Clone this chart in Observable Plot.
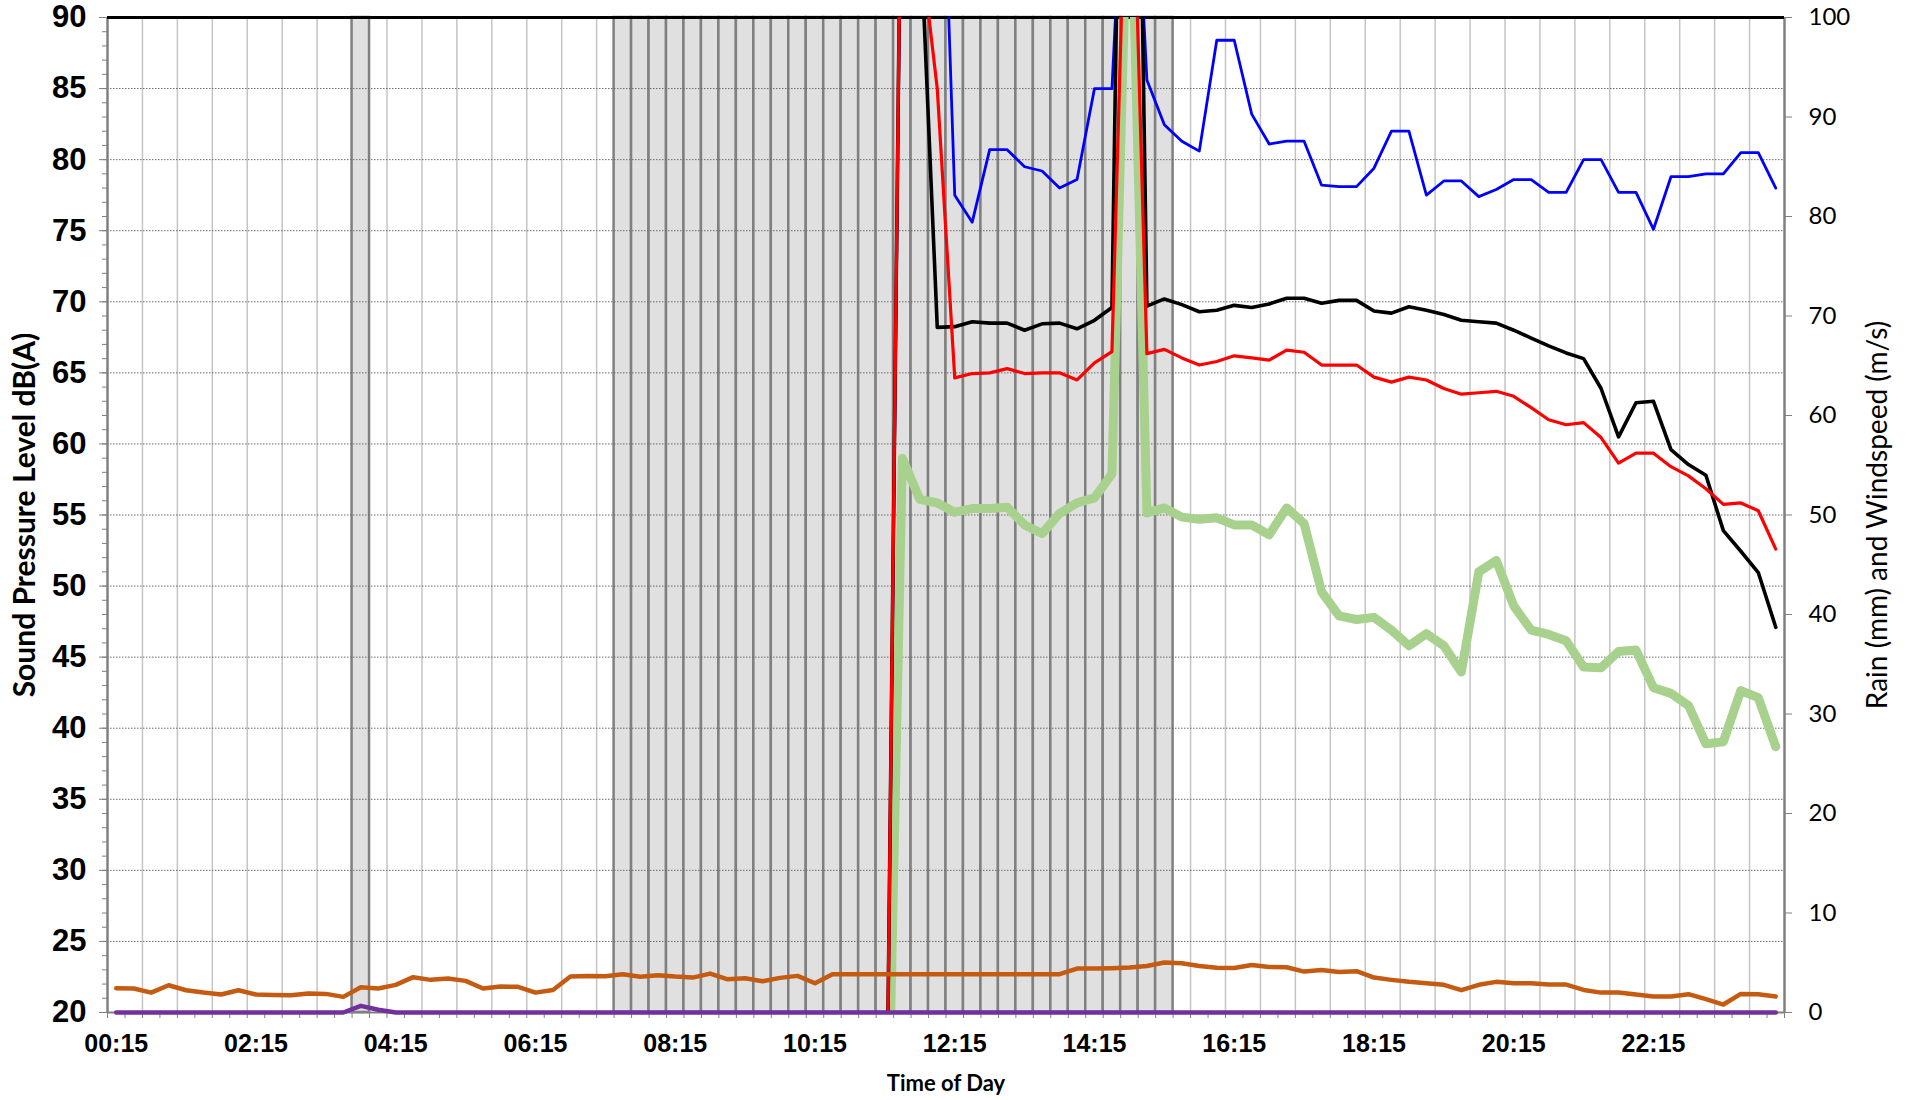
<!DOCTYPE html>
<html>
<head>
<meta charset="utf-8">
<script src="https://cdn.jsdelivr.net/npm/d3@7"></script>
<script src="https://cdn.jsdelivr.net/npm/@observablehq/plot@0.6"></script>
<style>
  html, body { margin: 0; padding: 0; background: #fff; }
  #chart svg { display: block; }
</style>
</head>
<body>
<div id="chart"></div>
<script>
// ---- categories: 15-minute slots (period end times) ----
const times = [
  "00:15","00:30","00:45","01:00","01:15","01:30","01:45","02:00",
  "02:15","02:30","02:45","03:00","03:15","03:30","03:45","04:00",
  "04:15","04:30","04:45","05:00","05:15","05:30","05:45","06:00",
  "06:15","06:30","06:45","07:00","07:15","07:30","07:45","08:00",
  "08:15","08:30","08:45","09:00","09:15","09:30","09:45","10:00",
  "10:15","10:30","10:45","11:00","11:15","11:30","11:45","12:00",
  "12:15","12:30","12:45","13:00","13:15","13:30","13:45","14:00",
  "14:15","14:30","14:45","15:00","15:15","15:30","15:45","16:00",
  "16:15","16:30","16:45","17:00","17:15","17:30","17:45","18:00",
  "18:15","18:30","18:45","19:00","19:15","19:30","19:45","20:00",
  "20:15","20:30","20:45","21:00","21:15","21:30","21:45","22:00",
  "22:15","22:30","22:45","23:00","23:15","23:30","23:45","00:00"
];

// ---- tick labels ----
const xTickLabels = ["00:15","02:15","04:15","06:15","08:15","10:15","12:15","14:15","16:15","18:15","20:15","22:15"];
const leftTicks = [20,25,30,35,40,45,50,55,60,65,70,75,80,85,90];
const rightTicks = [0,10,20,30,40,50,60,70,80,90,100];

// ---- shaded (flagged) periods ----
const shadedPeriods = [
  "03:45",
  "07:30","07:45","08:00","08:15","08:30","08:45","09:00","09:15",
  "09:30","09:45","10:00","10:15","10:30","10:45","11:00","11:15",
  "11:30","11:45","12:00","12:15","12:30","12:45","13:00","13:15",
  "13:30","13:45","14:00","14:15","14:30","14:45","15:00","15:15"
];

// ---- series, dB(A) (left axis) ----
const seriesBlue = [
  0,0,0,0,0,0,0,0,0,0,0,0,0,0,0,0,0,0,0,0,0,0,0,0,0,0,0,0,0,0,0,0,0,0,0,0,0,0,0,0,0,0,0,0,0,
  108,113,114,77.5,75.6,80.7,80.7,79.5,79.2,78.0,78.6,85.0,85.0,110,85.6,82.45,81.3,80.6,88.4,88.4,
  83.2,81.1,81.3,81.3,78.2,78.1,78.1,79.4,82.0,82.0,77.5,78.5,78.5,77.4,77.9,78.6,78.6,77.7,77.7,
  80.0,80.0,77.7,77.7,75.1,78.8,78.8,79.0,79.0,80.5,80.5,78.0
];
const seriesBlack = [
  0,0,0,0,0,0,0,0,0,0,0,0,0,0,0,0,0,0,0,0,0,0,0,0,0,0,0,0,0,0,0,0,0,0,0,0,0,0,0,0,0,0,0,0,0,
  110,97,68.2,68.25,68.6,68.5,68.5,68.0,68.45,68.5,68.1,68.7,69.6,150,69.7,70.2,69.8,69.3,69.4,69.75,
  69.6,69.85,70.25,70.25,69.9,70.1,70.1,69.35,69.2,69.65,69.4,69.1,68.7,68.6,68.5,68.0,67.45,66.9,66.4,
  66.0,63.9,60.5,62.9,63.0,59.6,58.55,57.8,53.9,52.45,50.95,47.1
];
const seriesRed = [
  0,0,0,0,0,0,0,0,0,0,0,0,0,0,0,0,0,0,0,0,0,0,0,0,0,0,0,0,0,0,0,0,0,0,0,0,0,0,0,0,0,0,0,0,0,
  110,95.5,85,64.65,64.95,65.0,65.3,64.95,65.0,65.0,64.5,65.7,66.5,110,66.35,66.65,66.05,65.55,65.8,66.2,
  66.05,65.9,66.6,66.45,65.55,65.55,65.55,64.7,64.35,64.7,64.5,63.9,63.5,63.6,63.7,63.35,62.55,61.7,61.35,
  61.5,60.45,58.65,59.35,59.35,58.4,57.75,56.85,55.75,55.85,55.3,52.6
];
const seriesGreen = [
  0,0,0,0,0,0,0,0,0,0,0,0,0,0,0,0,0,0,0,0,0,0,0,0,0,0,0,0,0,0,0,0,0,0,0,0,0,0,0,0,0,0,0,0,0,
  59.0,56.1,55.85,55.2,55.45,55.45,55.55,54.3,53.7,55.1,55.85,56.2,57.9,104,55.15,55.5,54.85,54.7,54.8,54.3,
  54.3,53.6,55.5,54.4,49.6,47.9,47.65,47.8,46.9,45.8,46.65,45.8,43.95,51.0,51.8,48.6,46.9,46.6,46.15,
  44.3,44.25,45.4,45.5,42.85,42.45,41.6,38.9,39.05,42.65,42.15,38.7
];

// ---- series on the right axis: windspeed (m/s) and rain (mm) ----
const windSpeed = [
  2.44,2.41,2.0,2.74,2.24,2.0,1.81,2.24,1.81,1.77,1.74,1.91,1.87,1.57,2.54,2.41,
  2.78,3.55,3.28,3.41,3.18,2.41,2.61,2.58,2.0,2.27,3.61,3.68,3.65,3.85,3.6,3.75,
  3.61,3.51,3.91,3.34,3.44,3.14,3.48,3.68,2.94,3.85,3.85,3.85,3.85,3.85,3.85,3.85,
  3.85,3.85,3.85,3.85,3.85,3.85,3.85,4.41,4.41,4.45,4.52,4.68,5.02,4.95,4.68,4.5,
  4.48,4.78,4.58,4.55,4.11,4.28,4.08,4.15,3.51,3.28,3.08,2.94,2.78,2.24,2.78,3.08,
  2.94,2.94,2.81,2.81,2.27,2.0,2.0,1.81,1.61,1.61,1.84,1.34,0.8,1.87,1.84,1.61
];
const rainfall = [
  0,0,0,0,0,0,0,0,0,0,0,0,0,0,0.67,0.27,
  0,0,0,0,0,0,0,0,0,0,0,0,0,0,0,0,
  0,0,0,0,0,0,0,0,0,0,0,0,0,0,0,0,
  0,0,0,0,0,0,0,0,0,0,0,0,0,0,0,0,
  0,0,0,0,0,0,0,0,0,0,0,0,0,0,0,0,
  0,0,0,0,0,0,0,0,0,0,0,0,0,0,0,0
];

// right axis (0–100) shares the plot height with the left axis (20–90 dB)
const toLeft = v => 20 + v * 0.7;
const slot = t => times.indexOf(t);

const rows = times.map((t, i) => ({
  t, i,
  blue: seriesBlue[i], black: seriesBlack[i], red: seriesRed[i], green: seriesGreen[i],
  wind: windSpeed[i], rain: rainfall[i]
}));

const grey = "#808080";
const xc = d => slot(d.t) + 0.5;

const chart = Plot.plot({
  width: 1908,
  height: 1100,
  marginLeft: 107,
  marginRight: 124,
  marginTop: 17,
  marginBottom: 88,
  style: { background: "#fff", fontFamily: "'Liberation Sans', Arial, sans-serif", color: "#000" },
  x: { domain: [0, times.length], axis: null },
  y: { domain: [20, 90], axis: null, label: null },
  marks: [
    // vertical light grid every 30 minutes
    Plot.ruleX(d3.range(2, times.length, 2), { y1: 20, y2: 90, stroke: "#c4c4c4", strokeWidth: 1.5 }),
    // shaded periods (full-height columns)
    Plot.rect(shadedPeriods, {
      x1: t => slot(t), x2: t => slot(t) + 1, y1: 20, y2: 90,
      fill: "#e0e0e0", stroke: grey, strokeWidth: 2.5
    }),
    // horizontal dotted grid
    Plot.ruleY(leftTicks.filter(v => v > 20 && v < 90), { stroke: "#6a6a6a", strokeWidth: 1, strokeDasharray: "1.5,1.5" }),
    // axis lines
    Plot.ruleY([20], { stroke: grey, strokeWidth: 2 }),
    Plot.ruleX([0, times.length], { stroke: grey, strokeWidth: 2.5 }),
    Plot.ruleY([90], { stroke: "#000", strokeWidth: 3 }),

    // left axis: minor + major ticks
    Plot.axisY({ anchor: "left", ticks: d3.range(20, 91, 1), tickSize: 5, tickFormat: () => "", stroke: grey }),
    Plot.axisY({
      anchor: "left", ticks: leftTicks, tickSize: 8, tickPadding: 13,
      stroke: grey, fill: "#000", fontSize: 31, fontWeight: "bold"
    }),
    // right axis
    Plot.axisY({
      anchor: "right", ticks: rightTicks.map(toLeft), tickSize: 7, tickPadding: 17,
      tickFormat: d => String(Math.round((d - 20) / 0.7)),
      stroke: grey, fill: "#000", fontSize: 24, fontFamily: "Lato"
    }),
    // bottom axis: tick at each slot boundary + labels every 2 hours
    Plot.axisX({ anchor: "bottom", ticks: d3.range(0, times.length + 1), tickSize: 6, tickFormat: () => "", stroke: grey }),
    Plot.axisX({
      anchor: "bottom", ticks: xTickLabels.map(t => slot(t) + 0.5), tickSize: 0, tickPadding: 22,
      tickFormat: d => times[Math.floor(d)], fill: "#000", fontSize: 25, fontWeight: "bold"
    }),

    // data lines
    Plot.line(rows, { x: xc, y: "green", stroke: "#a9d18e", strokeWidth: 9, clip: true }),
    Plot.line(rows, { x: xc, y: "blue", stroke: "#0000ff", strokeWidth: 2.8, clip: true }),
    Plot.line(rows, { x: xc, y: "black", stroke: "#000000", strokeWidth: 3.6, clip: true }),
    Plot.line(rows, { x: xc, y: "red", stroke: "#ff0000", strokeWidth: 3.2, clip: true }),
    Plot.line(rows, { x: xc, y: d => toLeft(d.wind), stroke: "#c55a11", strokeWidth: 4.5 }),
    Plot.line(rows, { x: xc, y: d => toLeft(d.rain), stroke: "#7030a0", strokeWidth: 4.5 }),

    // axis titles
    Plot.text(["Sound Pressure Level dB(A)"], {
      text: d => d, frameAnchor: "left", dx: -82, rotate: -90, textAnchor: "middle",
      fontSize: 30, fontWeight: "bold", fontFamily: "Lato", fill: "#000"
    }),
    Plot.text(["Rain (mm) and Windspeed (m/s)"], {
      text: d => d, frameAnchor: "right", dx: 94, rotate: -90, textAnchor: "middle",
      fontSize: 28, fontFamily: "Lato", fill: "#000"
    }),
    Plot.text(["Time of Day"], {
      text: d => d, frameAnchor: "bottom", dy: 78, textAnchor: "middle",
      fontSize: 22, fontWeight: "bold", fontFamily: "Lato", fill: "#000"
    })
  ]
});

document.getElementById("chart").append(chart);
</script>
</body>
</html>
